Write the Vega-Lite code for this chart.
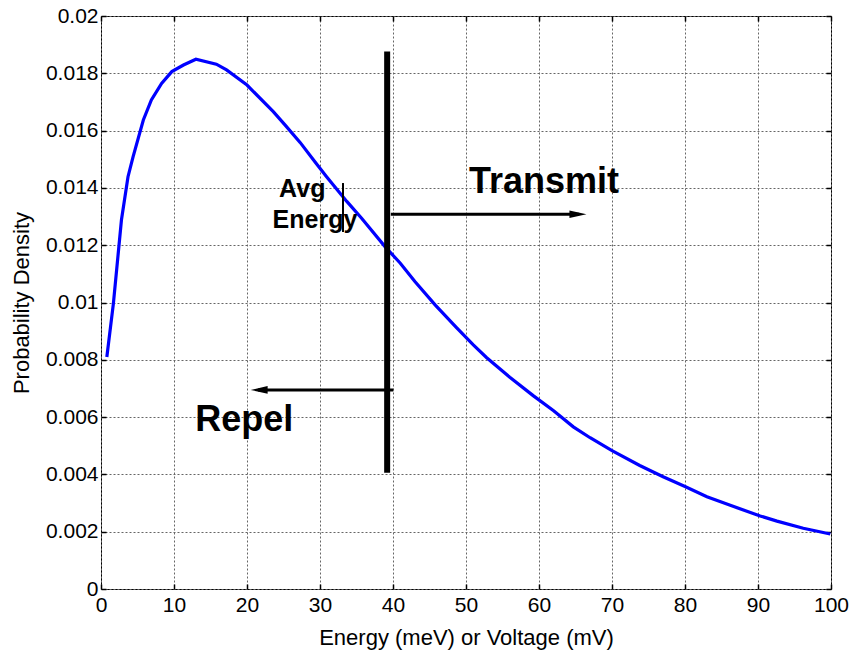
{
  "$schema": "https://vega.github.io/schema/vega-lite/v6.json",
  "width": 730,
  "height": 573,
  "autosize": {"type": "none"},
  "padding": {"left": 101, "top": 16, "right": 22, "bottom": 69},
  "background": "white",
  "config": {
    "font": "Liberation Sans",
    "view": {"stroke": "black", "strokeWidth": 1},
    "axis": {
      "domain": false,
      "labelFont": "Liberation Sans",
      "titleFont": "Liberation Sans",
      "labelColor": "black",
      "titleColor": "black",
      "labelFontSize": 21,
      "titleFontSize": 22,
      "titleFontWeight": "normal",
      "tickColor": "black",
      "tickSize": -5,
      "tickWidth": 1.5,
      "gridColor": "#666666",
      "gridDash": [2, 2],
      "gridOpacity": 1,
      "gridWidth": 1
    }
  },
  "datasets": {
    "curve": [
      {"energy": 0.8, "density": 0.0081},
      {"energy": 1.7, "density": 0.00997},
      {"energy": 2.8, "density": 0.01288},
      {"energy": 3.7, "density": 0.01439},
      {"energy": 4.4, "density": 0.01509},
      {"energy": 5.8, "density": 0.01637},
      {"energy": 6.9, "density": 0.01707},
      {"energy": 8.3, "density": 0.01765},
      {"energy": 9.7, "density": 0.01806},
      {"energy": 11.3, "density": 0.01829},
      {"energy": 13.0, "density": 0.01849},
      {"energy": 15.8, "density": 0.01832},
      {"energy": 17.2, "density": 0.01812},
      {"energy": 20.0, "density": 0.01759},
      {"energy": 23.6, "density": 0.01666},
      {"energy": 25.2, "density": 0.0162},
      {"energy": 27.3, "density": 0.01558},
      {"energy": 29.3, "density": 0.01491},
      {"energy": 30.9, "density": 0.01439},
      {"energy": 33.7, "density": 0.01352},
      {"energy": 35.7, "density": 0.01294},
      {"energy": 38.9, "density": 0.01195},
      {"energy": 41.0, "density": 0.01137},
      {"energy": 43.0, "density": 0.01073},
      {"energy": 45.8, "density": 0.00991},
      {"energy": 48.7, "density": 0.00912},
      {"energy": 51.0, "density": 0.00852},
      {"energy": 52.8, "density": 0.00808},
      {"energy": 56.0, "density": 0.00739},
      {"energy": 59.2, "density": 0.00675},
      {"energy": 62.0, "density": 0.00622},
      {"energy": 64.7, "density": 0.00566},
      {"energy": 67.0, "density": 0.00528},
      {"energy": 70.0, "density": 0.00483},
      {"energy": 73.8, "density": 0.00431},
      {"energy": 77.0, "density": 0.00392},
      {"energy": 80.0, "density": 0.00358},
      {"energy": 83.0, "density": 0.00322},
      {"energy": 86.2, "density": 0.00292},
      {"energy": 90.3, "density": 0.00255},
      {"energy": 92.6, "density": 0.00237},
      {"energy": 96.2, "density": 0.00212},
      {"energy": 99.9, "density": 0.00192}
    ],
    "bar": [{"x": 39.2, "y": 0.00406, "y2": 0.01876}],
    "avgtick": [{"x": 33.15, "y": 0.01246, "y2": 0.01417}],
    "arrows": [
      {"name": "transmit", "x": 39.7, "x2": 65.5, "y": 0.01308},
      {"name": "repel", "x": 40.05, "x2": 21.5, "y": 0.00695}
    ],
    "heads": [
      {"name": "transmit", "x": 66.5, "y": 0.01308, "dir": "right"},
      {"name": "repel", "x": 20.5, "y": 0.00695, "dir": "left"}
    ],
    "bigtext": [
      {"label": "Transmit", "x": 50.4, "y": 0.01381},
      {"label": "Repel", "x": 12.9, "y": 0.005525}
    ],
    "smalltext": [
      {"label": "Avg", "x": 24.4, "y": 0.01369},
      {"label": "Energy", "x": 23.5, "y": 0.01259}
    ]
  },
  "layer": [
    {
      "data": {"name": "curve"},
      "mark": {"type": "line", "color": "#0000ff", "strokeWidth": 3.2, "clip": true},
      "encoding": {
        "x": {
          "field": "energy", "type": "quantitative",
          "scale": {"domain": [0, 100], "nice": false},
          "axis": {"title": "Energy (meV) or Voltage (mV)", "values": [0,10,20,30,40,50,60,70,80,90,100], "labelPadding": 10, "titlePadding": 12, "labelFlush": false}
        },
        "y": {
          "field": "density", "type": "quantitative",
          "scale": {"domain": [0, 0.02], "nice": false, "zero": true},
          "axis": {"title": "Probability Density", "values": [0,0.002,0.004,0.006,0.008,0.01,0.012,0.014,0.016,0.018,0.02], "labelExpr": "datum.value == 0 ? '0' : format(datum.value, '.3~f')", "labelPadding": 8, "titlePadding": 12, "labelFlush": false}
        }
      }
    },
    {
      "data": {"name": "bar"},
      "mark": {"type": "rule", "color": "black", "strokeWidth": 6},
      "encoding": {
        "x": {
          "field": "x", "type": "quantitative",
          "axis": {"orient": "top", "labels": false, "title": null, "grid": false, "values": [0,10,20,30,40,50,60,70,80,90,100]}
        },
        "y": {
          "field": "y", "type": "quantitative",
          "axis": {"orient": "right", "labels": false, "title": null, "grid": false, "values": [0,0.002,0.004,0.006,0.008,0.01,0.012,0.014,0.016,0.018,0.02]}
        },
        "y2": {"field": "y2"}
      }
    },
    {
      "data": {"name": "avgtick"},
      "mark": {"type": "rule", "color": "black", "strokeWidth": 2},
      "encoding": {
        "x": {"field": "x", "type": "quantitative", "axis": null},
        "y": {"field": "y", "type": "quantitative", "axis": null},
        "y2": {"field": "y2"}
      }
    },
    {
      "data": {"name": "arrows"},
      "mark": {"type": "rule", "color": "black", "strokeWidth": 3},
      "encoding": {
        "x": {"field": "x", "type": "quantitative", "axis": null},
        "x2": {"field": "x2"},
        "y": {"field": "y", "type": "quantitative", "axis": null}
      }
    },
    {
      "data": {"name": "heads"},
      "mark": {"type": "point", "filled": true, "color": "black", "opacity": 1, "size": 289},
      "encoding": {
        "x": {"field": "x", "type": "quantitative", "axis": null},
        "y": {"field": "y", "type": "quantitative", "axis": null},
        "shape": {
          "field": "dir", "type": "nominal",
          "scale": {"domain": ["right", "left"], "range": ["M-2,-0.45L0,0L-2,0.45Z", "M2,-0.45L0,0L2,0.45Z"]},
          "legend": null
        }
      }
    },
    {
      "data": {"name": "bigtext"},
      "mark": {"type": "text", "font": "Liberation Sans", "fontWeight": "bold", "fontSize": 36, "align": "left", "baseline": "alphabetic", "color": "black"},
      "encoding": {
        "x": {"field": "x", "type": "quantitative", "axis": null},
        "y": {"field": "y", "type": "quantitative", "axis": null},
        "text": {"field": "label"}
      }
    },
    {
      "data": {"name": "smalltext"},
      "mark": {"type": "text", "font": "Liberation Sans", "fontWeight": "bold", "fontSize": 25, "align": "left", "baseline": "alphabetic", "color": "black"},
      "encoding": {
        "x": {"field": "x", "type": "quantitative", "axis": null},
        "y": {"field": "y", "type": "quantitative", "axis": null},
        "text": {"field": "label"}
      }
    }
  ],
  "resolve": {"axis": {"x": "independent", "y": "independent"}}
}
